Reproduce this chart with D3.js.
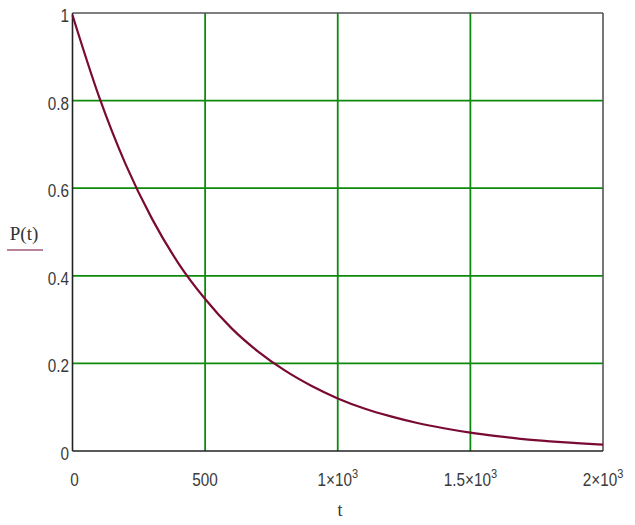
<!DOCTYPE html>
<html><head><meta charset="utf-8">
<script src="https://cdn.jsdelivr.net/npm/d3@7"></script>
<style>body{margin:0;background:#fff}svg{display:block}</style>
</head><body>
<svg id="c" width="635" height="525"></svg>
<script>
// data
const tValues = [0,100,200,300,400,500,600,700,800,900,1000,1100,1200,1300,1400,1500,1600,1700,1800,1900,2000];
const pValues = [0.995,0.809,0.655,0.530,0.428,0.347,0.280,0.227,0.184,0.149,0.120,0.097,0.079,0.064,0.052,0.042,0.034,0.027,0.022,0.018,0.0145];
const xTicks = [0,500,1000,1500,2000];
const xTickBase = ["0","500","1\u00d710","1.5\u00d710","2\u00d710"];
const xTickExp = ["","","3","3","3"];
const yTicks = [0,0.2,0.4,0.6,0.8,1];
const yTickLabels = ["0","0.2","0.4","0.6","0.8","1"];

const svg = d3.select("#c");
const L=72.5, R=603, T=13, B=451;
const x = d3.scaleLinear().domain([0,2000]).range([L,R]);
const y = d3.scaleLinear().domain([0,1]).range([B,T]);

const green="#0c8a0c";
// grid
svg.selectAll(".gx").data(xTicks.slice(1,-1)).enter().append("line")
  .attr("x1",d=>x(d)).attr("x2",d=>x(d)).attr("y1",T).attr("y2",B)
  .attr("stroke",green).attr("stroke-width",1.8);
svg.selectAll(".gy").data(yTicks.slice(1,-1)).enter().append("line")
  .attr("x1",L).attr("x2",R).attr("y1",d=>y(d)).attr("y2",d=>y(d))
  .attr("stroke",green).attr("stroke-width",1.8);
// frame
svg.append("line").attr("x1",L).attr("x2",R).attr("y1",T).attr("y2",T).attr("stroke","#555").attr("stroke-width",1.6);
svg.append("line").attr("x1",R).attr("x2",R).attr("y1",T).attr("y2",B).attr("stroke","#555").attr("stroke-width",1.6);
svg.append("line").attr("x1",L).attr("x2",L).attr("y1",T).attr("y2",B).attr("stroke","#222").attr("stroke-width",1.6);
svg.append("line").attr("x1",L).attr("x2",R).attr("y1",B).attr("y2",B).attr("stroke","#222").attr("stroke-width",1.6);

// curve
const line = d3.line().x((d,i)=>x(tValues[i])).y(d=>y(d)).curve(d3.curveMonotoneX);
svg.append("path").attr("d",line(pValues)).attr("fill","none")
  .attr("stroke","#7a0a34").attr("stroke-width",2.2);

// y tick labels
svg.selectAll(".yl").data(yTicks).enter().append("text")
  .attr("transform",d=>`translate(69,${y(d)+3}) scale(0.85,1)`)
  .attr("text-anchor","end").attr("dominant-baseline","central")
  .attr("font-family","Liberation Sans, Arial, sans-serif").attr("font-size",18)
  .attr("fill","#3a3a3a").text((d,i)=>yTickLabels[i]);

// x tick labels
const xl = svg.selectAll(".xl").data(xTicks).enter().append("text")
  .attr("transform",d=>`translate(${x(d)+ (d===0?2:0)},486) scale(0.85,1)`)
  .attr("text-anchor","middle")
  .attr("font-family","Liberation Sans, Arial, sans-serif").attr("font-size",18)
  .attr("fill","#3a3a3a");
xl.append("tspan").text((d,i)=>xTickBase[i]);
xl.append("tspan").attr("dy",-8).attr("font-size",13).text((d,i)=>xTickExp[i]);

// axis titles
svg.append("text").attr("x",340).attr("y",516).attr("text-anchor","middle")
  .attr("font-family","Liberation Serif, Times New Roman, serif").attr("font-size",18)
  .attr("fill","#333").text("t");
svg.append("text").attr("x",24).attr("y",240).attr("text-anchor","middle")
  .attr("font-family","Liberation Serif, Times New Roman, serif").attr("font-size",19)
  .attr("fill","#333").text("P(t)");
svg.append("line").attr("x1",7).attr("x2",43).attr("y1",250).attr("y2",250)
  .attr("stroke","#a05a78").attr("stroke-width",1.4);
</script>
</body></html>
